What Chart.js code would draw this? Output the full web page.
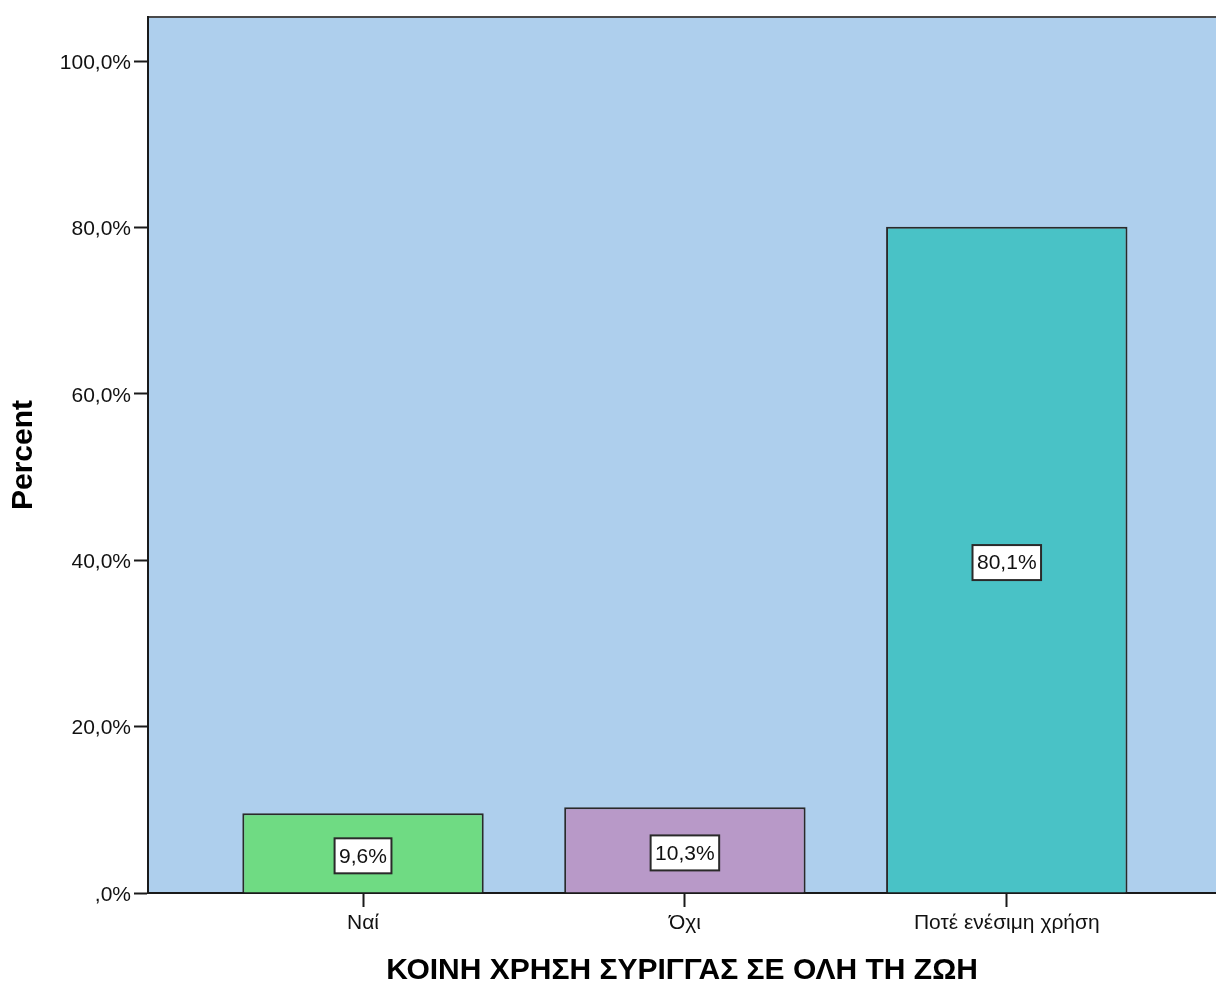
<!DOCTYPE html>
<html>
<head>
<meta charset="utf-8">
<script src="https://cdn.jsdelivr.net/npm/chart.js@4.4.1/dist/chart.umd.min.js"></script>
<style>
  html, body { margin: 0; padding: 0; background: #ffffff; overflow: hidden; }
  #wrap { width: 1216px; height: 983px; position: relative; }
</style>
</head>
<body>
<div id="wrap"><canvas id="c" width="1216" height="983"></canvas></div>
<script>
const categories = ['Ναί', 'Όχι', 'Ποτέ ενέσιμη χρήση'];
const percents = [9.6, 10.3, 80.1];
const barColors = ['#6FDB83', '#B899C8', '#49C2C6'];
const yTickValues = [0, 20, 40, 60, 80, 100];
const xTitle = 'ΚΟΙΝΗ ΧΡΗΣΗ ΣΥΡΙΓΓΑΣ ΣΕ ΟΛΗ ΤΗ ΖΩΗ';
const yTitle = 'Percent';

const FONT = 'Arial, "Liberation Sans", sans-serif';

function fmtPct(v) {
  if (v === 0) return ',0%';
  return v.toFixed(1).replace('.', ',') + '%';
}

const bgPlugin = {
  id: 'plotBg',
  beforeDraw(chart) {
    const { ctx, chartArea: a } = chart;
    ctx.save();
    ctx.fillStyle = '#AECFED';
    ctx.fillRect(a.left, a.top, a.right - a.left, a.bottom - a.top);
    ctx.strokeStyle = '#4a4a4a';
    ctx.lineWidth = 2;
    ctx.beginPath();
    ctx.moveTo(a.left, a.top);
    ctx.lineTo(a.right, a.top);
    ctx.stroke();
    ctx.restore();
  }
};

const labelPlugin = {
  id: 'boxLabels',
  afterDatasetsDraw(chart) {
    const { ctx } = chart;
    const meta = chart.getDatasetMeta(0);
    ctx.save();
    ctx.font = '21px ' + FONT;
    ctx.textAlign = 'center';
    ctx.textBaseline = 'middle';
    meta.data.forEach((bar, i) => {
      const text = fmtPct(percents[i]);
      const cx = bar.x;
      const cy = (bar.y + bar.base) / 2 + 3;
      const w = ctx.measureText(text).width + 9;
      const h = 35;
      ctx.fillStyle = '#ffffff';
      ctx.fillRect(cx - w / 2, cy - h / 2, w, h);
      ctx.strokeStyle = '#2a2a2a';
      ctx.lineWidth = 2;
      ctx.strokeRect(cx - w / 2, cy - h / 2, w, h);
      ctx.fillStyle = '#111111';
      ctx.fillText(text, cx, cy + 1);
    });
    ctx.restore();
  }
};

new Chart(document.getElementById('c'), {
  type: 'bar',
  data: {
    datasets: [{
      data: percents.map((v, i) => ({ x: i, y: v })),
      backgroundColor: barColors,
      borderColor: '#2a2a2a',
      borderWidth: 2,
      borderSkipped: 'start',
      barPercentage: 0.75,
      categoryPercentage: 1
    }]
  },
  options: {
    responsive: false,
    animation: false,
    devicePixelRatio: 1,
    layout: { padding: { top: 17, right: 0, left: 0, bottom: 0 } },
    plugins: { legend: { display: false }, tooltip: { enabled: false } },
    scales: {
      x: {
        type: 'linear',
        offset: false,
        min: -0.668,
        max: 2.65,
        afterBuildTicks(scale) { scale.ticks = categories.map((_, i) => ({ value: i })); },
        afterFit(scale) { scale.height = 90; },
        grid: { offset: false, drawOnChartArea: false, drawTicks: true, tickLength: 14, tickColor: '#1a1a1a', tickWidth: 2 },
        border: { display: true, color: '#1a1a1a', width: 2 },
        ticks: {
          autoSkip: false, maxRotation: 0, minRotation: 0, padding: 4,
          color: '#111111',
          font: { family: FONT, size: 21 },
          callback: (v) => categories[v]
        },
        title: {
          display: true, text: xTitle, color: '#000000',
          font: { family: FONT, size: 30, weight: 'bold', lineHeight: 0.8 },
          padding: { top: 0, bottom: 0 }
        }
      },
      y: {
        type: 'linear',
        min: 0,
        max: 105.3,
        afterBuildTicks(scale) { scale.ticks = yTickValues.map(v => ({ value: v })); },
        afterFit(scale) { scale.width = 148; },
        grid: { drawOnChartArea: false, drawTicks: true, tickLength: 14, tickColor: '#1a1a1a', tickWidth: 2 },
        border: { display: true, color: '#1a1a1a', width: 2 },
        ticks: {
          padding: 3, color: '#111111', labelOffset: 2,
          font: { family: FONT, size: 21 },
          callback: (v) => fmtPct(v)
        },
        title: {
          display: true, text: yTitle, color: '#000000',
          font: { family: FONT, size: 30, weight: 'bold', lineHeight: 1.2 },
          padding: { top: 6, bottom: 0 }
        }
      }
    }
  },
  plugins: [bgPlugin, labelPlugin]
});
</script>
</body>
</html>
